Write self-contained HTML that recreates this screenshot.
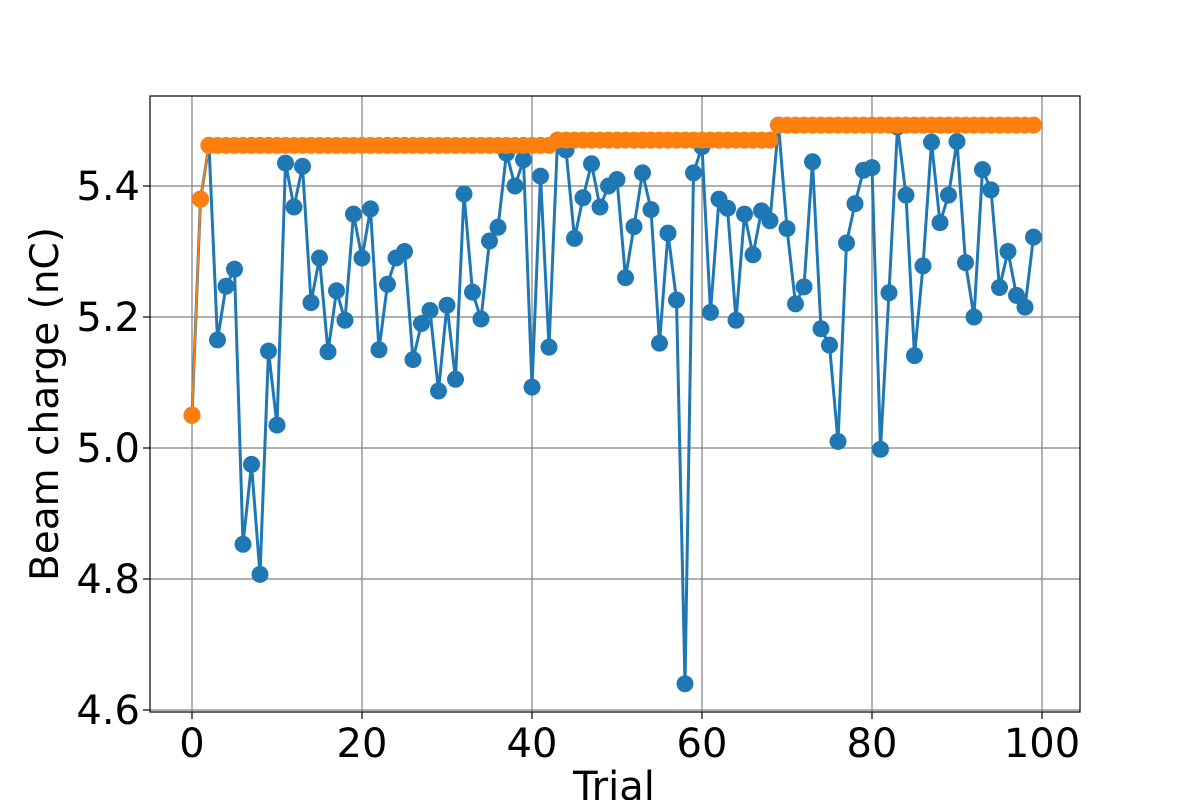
<!DOCTYPE html>
<html><head><meta charset="utf-8"><style>body{margin:0;background:#fff}svg{display:block}</style></head>
<body>
<svg id="chart" width="1200" height="800" xmlns="http://www.w3.org/2000/svg" font-family="DejaVu Sans, Liberation Sans, sans-serif">
<g id="grid"></g>
<g id="series"></g>
<rect x="150" y="96" width="930" height="616" fill="none" stroke="#000" stroke-width="1.2"/>
<g id="ticks"></g>
<text x="614" y="800" font-size="40" text-anchor="middle">Trial</text>
<text transform="translate(58,404) rotate(-90)" font-size="39" text-anchor="middle">Beam charge (nC)</text>
</svg>
<script>
const trialValues = [5.05,5.38,5.462,5.165,5.247,5.273,4.853,4.975,4.807,5.148,5.035,5.435,5.368,5.43,5.222,5.29,5.147,5.24,5.195,5.357,5.29,5.365,5.15,5.25,5.29,5.30,5.135,5.19,5.21,5.087,5.218,5.105,5.388,5.238,5.197,5.316,5.337,5.45,5.40,5.44,5.093,5.415,5.154,5.47,5.455,5.32,5.382,5.434,5.368,5.40,5.41,5.26,5.338,5.42,5.364,5.16,5.328,5.226,4.64,5.42,5.46,5.207,5.38,5.366,5.195,5.357,5.295,5.362,5.347,5.493,5.335,5.22,5.246,5.437,5.182,5.157,5.01,5.313,5.373,5.424,5.428,4.998,5.237,5.49,5.386,5.141,5.278,5.467,5.344,5.386,5.468,5.283,5.20,5.425,5.394,5.245,5.30,5.233,5.215,5.322];
const xTicks = [0,20,40,60,80,100];
const yTicks = [4.6,4.8,5.0,5.2,5.4];
const yTickLabels = ["4.6","4.8","5.0","5.2","5.4"];
const NS="http://www.w3.org/2000/svg";
const xs = v => 192 + v*8.5;
const ys = v => 186 - (v-5.4)*655;
const grid=document.getElementById('grid'), ticks=document.getElementById('ticks'), series=document.getElementById('series');
function mk(tag, attrs, parent){const e=document.createElementNS(NS,tag);for(const k in attrs)e.setAttribute(k,attrs[k]);parent.appendChild(e);return e;}
xTicks.forEach(t=>{
  const l=mk('line',{x1:xs(t),x2:xs(t),y1:96,y2:712,stroke:'#808080','stroke-width':1.2},grid);
  
  
  const tk=mk('line',{x1:xs(t),x2:xs(t),y1:712,y2:719,stroke:'#000','stroke-width':1.2},ticks);
  
  
  const tx=mk('text',{x:xs(t),y:757,'font-size':40,'text-anchor':'middle'},ticks);
  tx.textContent=t;
  
  
});
yTicks.forEach((t,i)=>{
  const l=mk('line',{x1:150,x2:1080,y1:ys(t),y2:ys(t),stroke:'#808080','stroke-width':1.2},grid);
  
  
  const tk=mk('line',{x1:143,x2:150,y1:ys(t),y2:ys(t),stroke:'#000','stroke-width':1.2},ticks);
  
  
  const tx=mk('text',{x:140,y:ys(t)+14,'font-size':40,'text-anchor':'end'},ticks);
  tx.textContent=yTickLabels[i];
  
  
});
const bestSoFar=[];let m=-Infinity;trialValues.forEach(v=>{m=Math.max(m,v);bestSoFar.push(m);});
function drawSeries(vals,color,lw,name){
  const g=mk('g',{},series);
  
  
  const p=mk('polyline',{points:vals.map((v,i)=>xs(i)+','+ys(v)).join(' '),fill:'none',stroke:color,'stroke-width':lw},g);
  
  
  vals.forEach((v,i)=>{
    const c=mk('circle',{cx:xs(i),cy:ys(v),r:8.5,fill:color},g);
    
    
  });
}
drawSeries(trialValues,'#1f77b4',3,'trial-series');
drawSeries(bestSoFar,'#ff7f0e',2,'best-series');
</script>
</body></html>
